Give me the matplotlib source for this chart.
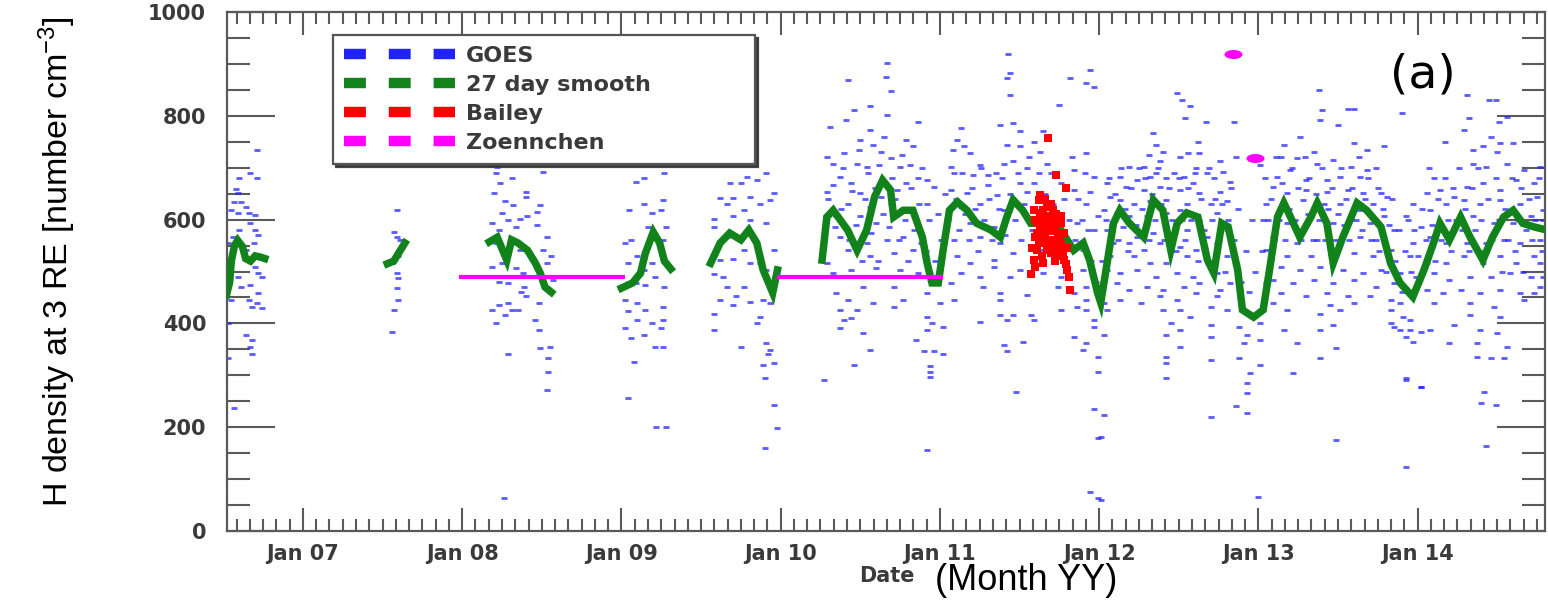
import numpy as np
import matplotlib
matplotlib.use("Agg")
import matplotlib.pyplot as plt
from matplotlib.lines import Line2D
from matplotlib.markers import MarkerStyle
from matplotlib.transforms import Affine2D
from matplotlib.ticker import FixedLocator

# ---------------------------------------------------------------------------
# Data (decimal year, H density in number cm^-3)
# ---------------------------------------------------------------------------
goes_2006 = [(2006.71, 734), (2006.67, 689), (2006.71, 680), (2006.60, 680), (2006.59, 651),
             (2006.57, 634), (2006.61, 634), (2006.55, 618), (2006.59, 612), (2006.66, 612),
             (2006.70, 609), (2006.60, 580), (2006.70, 580), (2006.72, 570), (2006.67, 593),
             (2006.53, 554), (2006.64, 541), (2006.72, 529), (2006.70, 509), (2006.72, 497),
             (2006.59, 490), (2006.74, 490), (2006.67, 474), (2006.72, 458), (2006.55, 445),
             (2006.68, 432), (2006.74, 429), (2006.53, 400), (2006.64, 378), (2006.68, 368),
             (2006.67, 355), (2006.68, 342), (2006.53, 333), (2006.57, 237), (2006.54, 516),
             (2006.66, 445), (2006.58, 658), (2006.64, 625), (2006.56, 567), (2006.69, 554),
             (2006.61, 471), (2006.71, 439)]

goes_2007 = [(2007.59, 712), (2007.59, 618), (2007.57, 577), (2007.59, 567), (2007.61, 561),
             (2007.60, 529), (2007.56, 516), (2007.59, 497), (2007.60, 487), (2007.59, 468),
             (2007.60, 445), (2007.57, 426), (2007.56, 384)]

goes_2008 = [(2008.22, 702), (2008.31, 680), (2008.51, 692), (2008.21, 689), (2008.20, 652),
             (2008.40, 654), (2008.24, 670), (2008.27, 635), (2008.32, 628), (2008.40, 644),
             (2008.49, 628), (2008.25, 612), (2008.19, 593), (2008.29, 599), (2008.36, 602),
             (2008.41, 606), (2008.47, 615), (2008.23, 580), (2008.34, 586), (2008.47, 590),
             (2008.53, 567), (2008.21, 554), (2008.36, 541), (2008.51, 541), (2008.56, 529),
             (2008.25, 516), (2008.19, 509), (2008.34, 506), (2008.53, 516), (2008.38, 497),
             (2008.23, 480), (2008.29, 477), (2008.49, 490), (2008.57, 484), (2008.39, 471),
             (2008.37, 461), (2008.40, 452), (2008.48, 439), (2008.23, 436), (2008.29, 439),
             (2008.31, 426), (2008.19, 426), (2008.35, 426), (2008.21, 400), (2008.27, 416),
             (2008.46, 407), (2008.48, 387), (2008.49, 352), (2008.55, 355), (2008.54, 333),
             (2008.29, 342), (2008.54, 307), (2008.53, 272), (2008.26, 63)]

goes_2009 = [(2009.14, 712), (2009.09, 673), (2009.14, 680), (2009.05, 619), (2009.14, 631),
             (2009.19, 612), (2009.17, 586), (2009.06, 561), (2009.02, 554), (2009.10, 529),
             (2009.04, 516), (2009.14, 503), (2009.19, 516), (2009.21, 490), (2009.09, 477),
             (2009.15, 474), (2009.02, 445), (2009.10, 439), (2009.15, 426), (2009.04, 423),
             (2009.10, 407), (2009.19, 400), (2009.02, 391), (2009.06, 371), (2009.14, 378),
             (2009.08, 326), (2009.21, 355), (2009.04, 256), (2009.22, 201),
             (2009.27, 689), (2009.26, 638), (2009.25, 619), (2009.28, 586), (2009.26, 561),
             (2009.25, 541), (2009.27, 471), (2009.26, 432), (2009.26, 407), (2009.25, 391),
             (2009.26, 355), (2009.28, 201),
             (2009.68, 670), (2009.75, 670), (2009.79, 683), (2009.91, 689), (2009.85, 676),
             (2009.62, 641), (2009.70, 641), (2009.81, 644), (2009.96, 651), (2009.58, 602),
             (2009.66, 631), (2009.77, 619), (2009.87, 631), (2009.93, 638), (2009.70, 606),
             (2009.81, 599), (2009.58, 586), (2009.91, 593), (2009.66, 567), (2009.77, 541),
             (2009.62, 522), (2009.70, 525), (2009.81, 516), (2009.87, 516), (2009.96, 541),
             (2009.58, 496), (2009.64, 490), (2009.91, 503), (2009.66, 471), (2009.77, 471),
             (2009.62, 445), (2009.70, 436), (2009.81, 442), (2009.89, 445), (2009.93, 439),
             (2009.58, 419), (2009.87, 413), (2009.85, 400), (2009.58, 387), (2009.75, 355),
             (2009.91, 362), (2009.93, 349), (2009.96, 323), (2009.89, 320), (2009.90, 294),
             (2009.96, 243), (2009.98, 198), (2009.90, 159), (2009.92, 342), (2009.72, 452)]

goes_2010 = [(2010.67, 901), (2010.66, 875), (2010.42, 869), (2010.69, 847), (2010.46, 811),
             (2010.56, 818), (2010.41, 792), (2010.67, 802), (2010.31, 779), (2010.86, 789),
             (2010.56, 773), (2010.50, 753), (2010.79, 753), (2010.83, 741), (2010.58, 744),
             (2010.29, 721), (2010.40, 728), (2010.63, 731), (2010.69, 718), (2010.33, 708),
             (2010.48, 708), (2010.54, 702), (2010.37, 683), (2010.81, 705), (2010.75, 702),
             (2010.33, 667), (2010.29, 654), (2010.44, 670), (2010.50, 651), (2010.63, 644),
             (2010.73, 657), (2010.79, 670), (2010.86, 680), (2010.92, 676), (2010.96, 663),
             (2010.42, 631), (2010.56, 625), (2010.69, 631), (2010.83, 619), (2010.92, 631),
             (2010.35, 606), (2010.50, 606), (2010.60, 593), (2010.71, 606), (2010.37, 567),
             (2010.54, 554), (2010.67, 561), (2010.77, 567), (2010.88, 554), (2010.29, 516),
             (2010.42, 541), (2010.56, 529), (2010.71, 535), (2010.83, 541), (2010.33, 497),
             (2010.44, 503), (2010.60, 506), (2010.50, 490), (2010.75, 503), (2010.86, 497),
             (2010.35, 458), (2010.42, 445), (2010.52, 471), (2010.71, 471), (2010.77, 445),
             (2010.92, 458), (2010.37, 426), (2010.48, 426), (2010.58, 439), (2010.71, 432),
             (2010.40, 407), (2010.44, 410), (2010.52, 381), (2010.37, 391), (2010.56, 349),
             (2010.46, 320), (2010.27, 291), (2010.85, 368), (2010.92, 413), (2010.95, 400),
             (2011.00, 439), (2011.02, 394), (2010.92, 387), (2010.96, 346), (2011.02, 342),
             (2010.90, 346), (2010.94, 317), (2010.94, 307), (2010.94, 297), (2010.92, 156),
             (2010.30, 640), (2010.34, 585), (2010.38, 620), (2010.39, 700), (2010.43, 560),
             (2010.45, 655), (2010.47, 590), (2010.49, 735), (2010.51, 520), (2010.53, 640),
             (2010.55, 690), (2010.57, 575), (2010.59, 660), (2010.61, 520), (2010.62, 705),
             (2010.64, 610), (2010.65, 760), (2010.68, 585), (2010.70, 680), (2010.72, 640),
             (2010.74, 560), (2010.76, 725), (2010.78, 600), (2010.80, 520), (2010.82, 660),
             (2010.84, 580), (2010.87, 630), (2010.89, 700), (2010.91, 540), (2010.93, 600),
             (2010.97, 520), (2010.99, 610)]

goes_2011 = [(2011.43, 920), (2011.44, 882), (2011.42, 872), (2011.44, 840), (2011.82, 872),
             (2011.92, 863), (2011.94, 888), (2011.97, 856), (2011.75, 821), (2011.13, 776),
             (2011.38, 782), (2011.46, 786), (2011.50, 770), (2011.65, 770), (2011.11, 753),
             (2011.15, 741), (2011.42, 744), (2011.50, 741), (2011.59, 750), (2011.19, 728),
             (2011.63, 731), (2011.92, 728), (2011.07, 702), (2011.25, 705), (2011.40, 708),
             (2011.46, 712), (2011.55, 699), (2011.67, 708), (2011.09, 689), (2011.21, 686),
             (2011.30, 686), (2011.50, 670), (2011.59, 670), (2011.76, 670), (2011.84, 696),
             (2011.97, 683), (2011.07, 657), (2011.17, 651), (2011.30, 667), (2011.36, 647),
             (2011.55, 654), (2011.84, 657), (2011.94, 654), (2011.13, 625), (2011.25, 631),
             (2011.40, 619), (2011.71, 631), (2011.92, 631), (2011.19, 593), (2011.34, 586),
             (2011.42, 606), (2011.86, 593), (2011.99, 606), (2011.09, 561), (2011.25, 567),
             (2011.38, 554), (2011.97, 580), (2011.11, 529), (2011.19, 516), (2011.34, 522),
             (2011.46, 535), (2011.63, 541), (2011.90, 541), (2011.13, 497), (2011.25, 490),
             (2011.34, 509), (2011.44, 490), (2011.50, 503), (2011.65, 497), (2011.76, 490),
             (2011.90, 503), (2011.07, 477), (2011.27, 471), (2011.38, 458), (2011.55, 455),
             (2011.74, 471), (2011.84, 458), (2011.92, 471), (2011.09, 445), (2011.38, 445),
             (2011.76, 426), (2011.86, 432), (2011.92, 445), (2011.38, 416), (2011.42, 407),
             (2011.46, 416), (2011.57, 416), (2011.59, 407), (2011.92, 426), (2011.97, 407),
             (2011.25, 403), (2011.97, 394), (2011.84, 374), (2011.92, 362), (2011.90, 349),
             (2011.40, 358), (2011.42, 346), (2011.52, 365), (2011.99, 336), (2011.99, 307),
             (2011.48, 268), (2011.97, 236), (2011.99, 179), (2011.94, 76), (2011.99, 63),
             (2011.01, 560), (2011.03, 650), (2011.05, 600), (2011.08, 735), (2011.10, 640),
             (2011.12, 580), (2011.14, 690), (2011.16, 610), (2011.18, 560), (2011.20, 660),
             (2011.22, 620), (2011.24, 540), (2011.26, 700), (2011.28, 600), (2011.31, 640),
             (2011.33, 560), (2011.35, 690), (2011.37, 620), (2011.39, 680), (2011.41, 570),
             (2011.44, 650), (2011.47, 600), (2011.49, 690), (2011.51, 560), (2011.53, 630),
             (2011.56, 720), (2011.58, 580), (2011.62, 690), (2011.66, 650), (2011.70, 690),
             (2011.78, 640), (2011.81, 600), (2011.83, 720), (2011.85, 560), (2011.87, 640),
             (2011.89, 600), (2011.91, 690), (2011.93, 580), (2011.95, 520), (2011.98, 480)]

goes_2012 = [(2012.49, 843), (2012.52, 830), (2012.57, 818), (2012.54, 795), (2012.67, 789),
             (2012.85, 789), (2012.62, 750), (2012.34, 766), (2012.36, 744), (2012.40, 731),
             (2012.31, 725), (2012.38, 712), (2012.51, 721), (2012.56, 728), (2012.63, 728),
             (2012.76, 712), (2012.86, 721), (2012.19, 702), (2012.28, 702), (2012.36, 689),
             (2012.47, 689), (2012.61, 699), (2012.68, 689), (2012.78, 692), (2012.13, 683),
             (2012.24, 676), (2012.32, 683), (2012.42, 680), (2012.53, 683), (2012.59, 670),
             (2012.72, 680), (2012.82, 673), (2012.05, 670), (2012.17, 663), (2012.28, 657),
             (2012.38, 663), (2012.51, 657), (2012.63, 651), (2012.76, 654), (2012.07, 644),
             (2012.13, 638), (2012.22, 631), (2012.32, 635), (2012.42, 638), (2012.55, 631),
             (2012.70, 631), (2012.80, 635), (2012.03, 619), (2012.11, 612), (2012.19, 606),
             (2012.30, 606), (2012.42, 612), (2012.51, 619), (2012.63, 599), (2012.74, 612),
             (2012.05, 580), (2012.15, 586), (2012.24, 567), (2012.34, 574), (2012.42, 586),
             (2012.55, 580), (2012.68, 567), (2012.80, 580), (2012.09, 554), (2012.19, 554),
             (2012.28, 541), (2012.38, 554), (2012.51, 548), (2012.61, 541), (2012.74, 554),
             (2012.84, 541), (2012.07, 529), (2012.22, 529), (2012.32, 516), (2012.42, 516),
             (2012.55, 529), (2012.70, 516), (2012.80, 529), (2012.05, 503), (2012.13, 497),
             (2012.24, 503), (2012.36, 490), (2012.49, 497), (2012.59, 490), (2012.74, 497),
             (2012.11, 477), (2012.19, 464), (2012.30, 471), (2012.40, 464), (2012.53, 471),
             (2012.63, 477), (2012.76, 464), (2012.82, 477), (2012.03, 439), (2012.13, 445),
             (2012.26, 439), (2012.38, 452), (2012.49, 445), (2012.61, 458), (2012.74, 452),
             (2012.05, 426), (2012.40, 426), (2012.51, 426), (2012.70, 432), (2012.80, 426),
             (2012.45, 400), (2012.51, 387), (2012.57, 413), (2012.70, 397), (2012.88, 394),
             (2012.93, 378), (2012.03, 378), (2012.42, 378), (2012.51, 355), (2012.70, 374),
             (2012.91, 362), (2013.01, 368), (2012.42, 336), (2012.42, 323), (2012.70, 329),
             (2012.88, 333), (2013.01, 320), (2012.42, 294), (2012.95, 304), (2012.93, 285),
             (2012.93, 265), (2012.70, 220), (2012.86, 240), (2012.93, 227), (2012.03, 224),
             (2013.00, 66), (2012.01, 60), (2012.01, 182),
             (2012.02, 520), (2012.04, 600), (2012.06, 680), (2012.08, 590), (2012.10, 650),
             (2012.12, 560), (2012.14, 700), (2012.16, 620), (2012.18, 540), (2012.20, 660),
             (2012.23, 590), (2012.25, 700), (2012.27, 620), (2012.29, 680), (2012.31, 560),
             (2012.33, 650), (2012.35, 600), (2012.37, 700), (2012.39, 630), (2012.41, 560),
             (2012.44, 660), (2012.46, 600), (2012.48, 540), (2012.50, 680), (2012.52, 600),
             (2012.54, 560), (2012.56, 660), (2012.58, 600), (2012.60, 690), (2012.62, 520),
             (2012.64, 640), (2012.66, 580), (2012.69, 700), (2012.71, 600), (2012.73, 640),
             (2012.75, 560), (2012.77, 630), (2012.79, 500), (2012.81, 600), (2012.83, 660),
             (2012.85, 560), (2012.87, 620), (2012.89, 480), (2012.92, 540), (2012.94, 460),
             (2012.96, 600), (2012.98, 500)]

goes_2013 = [(2013.38, 850), (2013.40, 811), (2013.56, 814), (2013.60, 814), (2013.50, 782),
             (2013.39, 792), (2013.16, 744), (2013.26, 760), (2013.35, 731), (2013.60, 747),
             (2013.68, 734), (2013.79, 741), (2013.01, 705), (2013.14, 721), (2013.24, 718),
             (2013.37, 708), (2013.47, 715), (2013.58, 702), (2013.68, 696), (2013.74, 699),
             (2013.12, 683), (2013.20, 696), (2013.30, 676), (2013.43, 676), (2013.51, 683),
             (2013.64, 683), (2013.09, 663), (2013.18, 651), (2013.30, 657), (2013.43, 654),
             (2013.56, 657), (2013.66, 651), (2013.77, 651), (2013.05, 631), (2013.14, 619),
             (2013.28, 638), (2013.41, 631), (2013.51, 631), (2013.64, 619), (2013.72, 631),
             (2013.81, 644), (2013.03, 599), (2013.18, 593), (2013.33, 606), (2013.47, 593),
             (2013.58, 599), (2013.70, 593), (2013.79, 606), (2013.09, 567), (2013.24, 554),
             (2013.37, 561), (2013.51, 561), (2013.64, 567), (2013.74, 561), (2013.85, 580),
             (2013.05, 541), (2013.18, 529), (2013.33, 529), (2013.47, 541), (2013.60, 535),
             (2013.72, 529), (2013.83, 541), (2013.14, 509), (2013.26, 503), (2013.39, 509),
             (2013.53, 503), (2013.66, 497), (2013.77, 503), (2013.89, 497), (2013.09, 484),
             (2013.22, 477), (2013.35, 484), (2013.47, 477), (2013.60, 484), (2013.74, 471),
             (2013.85, 477), (2013.14, 458), (2013.30, 452), (2013.43, 458), (2013.56, 452),
             (2013.70, 452), (2013.83, 445), (2013.89, 439), (2013.18, 426), (2013.39, 419),
             (2013.51, 426), (2013.83, 426), (2013.91, 413), (2013.83, 400), (2013.95, 407),
             (2013.39, 387), (2013.47, 397), (2013.95, 387), (2014.02, 384), (2014.08, 387),
             (2013.93, 374), (2013.97, 365), (2013.24, 362), (2013.49, 352), (2013.39, 333),
             (2013.22, 304), (2013.93, 294), (2014.02, 278), (2013.49, 175), (2013.93, 124),
             (2013.89, 387), (2013.45, 436), (2013.60, 439), (2013.85, 394), (2013.05, 477),
             (2013.09, 439), (2013.01, 400), (2013.16, 387),
             (2013.02, 540), (2013.04, 680), (2013.06, 600), (2013.08, 640), (2013.10, 560),
             (2013.11, 720), (2013.13, 600), (2013.15, 670), (2013.17, 560), (2013.19, 620),
             (2013.21, 700), (2013.23, 600), (2013.25, 660), (2013.27, 560), (2013.29, 720),
             (2013.31, 610), (2013.32, 680), (2013.34, 560), (2013.36, 650), (2013.38, 600),
             (2013.40, 700), (2013.42, 560), (2013.44, 620), (2013.46, 660), (2013.48, 560),
             (2013.50, 610), (2013.52, 700), (2013.54, 590), (2013.55, 640), (2013.57, 560),
             (2013.59, 660), (2013.61, 600), (2013.63, 720), (2013.65, 580), (2013.67, 640),
             (2013.69, 680), (2013.71, 560), (2013.73, 600), (2013.75, 660), (2013.76, 540),
             (2013.78, 620), (2013.80, 500), (2013.82, 590), (2013.84, 640), (2013.86, 520),
             (2013.88, 580), (2013.90, 460), (2013.92, 540), (2013.94, 600), (2013.96, 500),
             (2013.98, 580)]

goes_2014 = [(2014.31, 840), (2014.45, 830), (2014.49, 830), (2013.90, 805), (2014.32, 795),
             (2014.51, 789), (2014.56, 798), (2014.29, 773), (2014.46, 760), (2014.17, 750),
             (2014.41, 741), (2014.52, 747), (2014.60, 747), (2014.35, 734), (2014.50, 731),
             (2014.10, 680), (2014.35, 708), (2014.43, 702), (2014.56, 708), (2014.67, 696),
             (2014.77, 702), (2014.06, 651), (2014.14, 657), (2014.23, 644), (2014.31, 663),
             (2014.41, 670), (2014.52, 657), (2014.62, 676), (2014.73, 670), (2013.97, 631),
             (2014.08, 619), (2014.18, 631), (2014.29, 638), (2014.39, 631), (2014.52, 638),
             (2014.64, 631), (2014.75, 644), (2013.93, 606), (2014.02, 586), (2014.14, 593),
             (2014.25, 593), (2014.35, 606), (2014.48, 593), (2014.60, 593), (2014.71, 606),
             (2014.79, 619), (2013.97, 554), (2014.08, 567), (2014.18, 554), (2014.31, 554),
             (2014.43, 554), (2014.54, 561), (2014.64, 554), (2014.77, 561), (2013.95, 529),
             (2014.06, 516), (2014.18, 516), (2014.29, 529), (2014.41, 516), (2014.52, 529),
             (2014.62, 516), (2014.73, 529), (2013.99, 490), (2014.10, 497), (2014.20, 484),
             (2014.33, 490), (2014.46, 490), (2014.58, 497), (2014.71, 490), (2014.79, 490),
             (2014.06, 464), (2014.16, 458), (2014.27, 464), (2014.39, 458), (2014.52, 464),
             (2014.64, 458), (2014.77, 471), (2014.10, 439), (2014.33, 439), (2014.48, 432),
             (2014.67, 445), (2014.33, 416), (2014.52, 413), (2014.23, 397), (2014.39, 387),
             (2014.50, 381), (2014.37, 362), (2014.56, 355), (2014.20, 362), (2014.37, 336),
             (2014.46, 333), (2014.54, 333), (2014.02, 278), (2013.93, 291), (2014.42, 268),
             (2014.40, 246), (2014.49, 243), (2014.43, 163), (2014.73, 458), (2014.77, 516),
             (2014.00, 530), (2014.03, 620), (2014.05, 560), (2014.07, 700), (2014.09, 590),
             (2014.11, 520), (2014.13, 640), (2014.15, 560), (2014.17, 680), (2014.19, 600),
             (2014.21, 540), (2014.22, 660), (2014.24, 600), (2014.26, 700), (2014.28, 580),
             (2014.30, 620), (2014.32, 540), (2014.34, 660), (2014.36, 580), (2014.38, 700),
             (2014.40, 600), (2014.42, 540), (2014.44, 640), (2014.47, 560), (2014.49, 680),
             (2014.51, 600), (2014.53, 500), (2014.55, 620), (2014.57, 560), (2014.59, 680),
             (2014.61, 540), (2014.63, 600), (2014.65, 660), (2014.66, 500), (2014.68, 580),
             (2014.70, 640), (2014.72, 560), (2014.74, 600), (2014.76, 680), (2014.78, 540),
             (2014.79, 600)]

# 27 day running mean, one list per continuous stretch of data
smooth_2006 = [(2006.52, 455), (2006.54, 480), (2006.55, 520), (2006.57, 550), (2006.59, 560),
               (2006.62, 548), (2006.64, 525), (2006.67, 520), (2006.70, 530), (2006.73, 528),
               (2006.76, 525)]
smooth_2007 = [(2007.53, 515), (2007.57, 520), (2007.60, 535), (2007.63, 550), (2007.64, 555)]
smooth_2008 = [(2008.17, 557), (2008.22, 566), (2008.28, 522), (2008.31, 561), (2008.35, 555),
               (2008.41, 541), (2008.46, 516), (2008.49, 497), (2008.52, 470), (2008.56, 460)]
smooth_2009a = [(2009.00, 468), (2009.07, 478), (2009.12, 497), (2009.15, 535), (2009.20, 576),
                (2009.24, 555), (2009.27, 520), (2009.31, 505)]
smooth_2009b = [(2009.56, 516), (2009.62, 555), (2009.68, 574), (2009.75, 561), (2009.80, 580),
                (2009.85, 555), (2009.89, 503), (2009.95, 459), (2009.98, 503)]
smooth_2010_14 = [(2010.26, 522), (2010.29, 605), (2010.33, 618), (2010.42, 580), (2010.48, 541),
                  (2010.54, 580), (2010.59, 644), (2010.64, 676), (2010.69, 657), (2010.71, 605),
                  (2010.77, 618), (2010.83, 618), (2010.89, 566), (2010.92, 516), (2010.95, 478),
                  (2010.99, 478), (2011.02, 541), (2011.06, 618), (2011.11, 634), (2011.17, 618),
                  (2011.23, 593), (2011.32, 580), (2011.38, 566), (2011.42, 605), (2011.46, 638),
                  (2011.52, 618), (2011.57, 593), (2011.67, 593), (2011.76, 580), (2011.84, 541),
                  (2011.90, 555), (2011.94, 522), (2011.99, 459), (2012.01, 440), (2012.05, 516),
                  (2012.09, 593), (2012.13, 618), (2012.19, 593), (2012.28, 566), (2012.34, 638),
                  (2012.40, 618), (2012.45, 541), (2012.49, 593), (2012.55, 613), (2012.62, 605),
                  (2012.68, 522), (2012.72, 497), (2012.77, 593), (2012.81, 586), (2012.87, 503),
                  (2012.90, 426), (2012.97, 412), (2013.03, 426), (2013.07, 503), (2013.12, 605),
                  (2013.16, 632), (2013.22, 593), (2013.26, 566), (2013.33, 605), (2013.37, 632),
                  (2013.43, 593), (2013.47, 516), (2013.53, 566), (2013.62, 632), (2013.68, 618),
                  (2013.77, 586), (2013.83, 516), (2013.89, 478), (2013.97, 451), (2014.04, 503),
                  (2014.10, 555), (2014.14, 593), (2014.20, 561), (2014.27, 605), (2014.33, 566),
                  (2014.41, 522), (2014.47, 566), (2014.54, 605), (2014.60, 618), (2014.66, 593),
                  (2014.73, 586), (2014.81, 580)]

bailey = [(2011.68, 757), (2011.73, 686), (2011.79, 660), (2011.63, 647), (2011.65, 619),
          (2011.71, 619), (2011.61, 593), (2011.67, 586), (2011.76, 593), (2011.78, 574),
          (2011.63, 567), (2011.69, 561), (2011.76, 554), (2011.61, 541), (2011.67, 541),
          (2011.74, 535), (2011.78, 522), (2011.59, 522), (2011.57, 496), (2011.65, 516),
          (2011.80, 503), (2011.81, 490), (2011.82, 464), (2011.71, 580), (2011.63, 606),
          (2011.76, 606), (2011.69, 606), (2011.60, 567), (2011.67, 625), (2011.74, 574),
          (2011.65, 554), (2011.59, 619), (2011.70, 535), (2011.62, 638), (2011.60, 509),
          (2011.66, 596), (2011.72, 600), (2011.64, 575), (2011.68, 548), (2011.75, 565),
          (2011.62, 600), (2011.64, 612), (2011.66, 604), (2011.68, 590), (2011.70, 598),
          (2011.72, 585), (2011.73, 610), (2011.61, 575), (2011.63, 585), (2011.66, 570),
          (2011.69, 578), (2011.71, 560), (2011.73, 548), (2011.75, 540), (2011.77, 530),
          (2011.79, 515), (2011.64, 530), (2011.62, 555), (2011.58, 545), (2011.60, 600),
          (2011.70, 630), (2011.66, 640), (2011.72, 520), (2011.80, 545)]

zoennchen_years = [(2007.98, 2009.02), (2009.98, 2011.02)]
zoennchen_level = 490
zoennchen_points = [(2012.84, 920), (2012.98, 718)]

year_ticks = [2007, 2008, 2009, 2010, 2011, 2012, 2013, 2014]
year_labels = ["Jan 07", "Jan 08", "Jan 09", "Jan 10", "Jan 11", "Jan 12", "Jan 13", "Jan 14"]
density_ticks = [0, 200, 400, 600, 800, 1000]

# ---------------------------------------------------------------------------
# Styling
# ---------------------------------------------------------------------------
BLUE = "#2222ff"
GREEN = "#12821a"
RED = "#ff0000"
MAGENTA = "#ff00ff"
AXIS_GREY = "#5a5a5a"
LABEL_GREY = "#3a3a3a"

plt.rcParams["mathtext.fontset"] = "custom"
plt.rcParams["mathtext.rm"] = "Liberation Sans"
plt.rcParams["font.family"] = ["DejaVu Sans"]

W, H = 1548, 600
fig = plt.figure(figsize=(W / 100, H / 100), dpi=100)
ax = fig.add_axes([227 / W, 69 / H, 1318 / W, 519 / H])

# GOES scatter
for group in (goes_2006, goes_2007, goes_2008, goes_2009, goes_2010,
              goes_2011, goes_2012, goes_2013, goes_2014):
    gx, gy = zip(*group)
    ax.plot(gx, gy, ls="none", marker="_", ms=5.0, mew=2.0, color=BLUE, alpha=0.75, zorder=2)

# 27 day smooth
for seg in (smooth_2006, smooth_2007, smooth_2008, smooth_2009a, smooth_2009b, smooth_2010_14):
    sx, sy = zip(*seg)
    ax.plot(sx, sy, color=GREEN, lw=5.4, solid_joinstyle="miter", zorder=3)

# Zoennchen model level
for x0, x1 in zoennchen_years:
    ax.plot([x0, x1], [zoennchen_level, zoennchen_level], color=MAGENTA, lw=3.0,
            solid_capstyle="butt", zorder=4)

# Bailey
bx, by = zip(*bailey)
ax.plot(bx, by, ls="none", marker="s", ms=5.2, mew=0, color=RED, zorder=5)

# Zoennchen points
ellipse = MarkerStyle("o", transform=Affine2D().scale(2.0, 1.0))
zx, zy = zip(*zoennchen_points)
ax.plot(zx, zy, ls="none", marker=ellipse, ms=6.5, mew=0, color=MAGENTA, zorder=6)

# Axes, ticks
ax.set_xlim(2006.523, 2014.80)
ax.set_ylim(0, 1000)
ax.xaxis.set_major_locator(FixedLocator(year_ticks))
ax.xaxis.set_minor_locator(FixedLocator(np.arange(2006 + 7 / 12, 2014.81, 1 / 12)))
ax.set_xticklabels(year_labels)
ax.yaxis.set_major_locator(FixedLocator(density_ticks))
ax.yaxis.set_minor_locator(FixedLocator(np.arange(0, 1001, 50)))

ax.tick_params(which="both", direction="in", top=True, right=True,
               color=AXIS_GREY, width=1.5)
ax.tick_params(axis="x", which="major", length=16.5, pad=9)
ax.tick_params(axis="x", which="minor", length=8.6)
ax.tick_params(axis="y", which="major", length=34.5, pad=15)
ax.tick_params(axis="y", which="minor", length=16.5)
for lab in ax.get_xticklabels() + ax.get_yticklabels():
    lab.set_fontweight("bold")
    lab.set_fontsize(15)
    lab.set_color(LABEL_GREY)
for sp in ax.spines.values():
    sp.set_color(AXIS_GREY)
    sp.set_linewidth(1.6)

# Legend
handles = [
    Line2D([], [], color=BLUE, lw=7.5, dashes=(2.1, 2.2)),
    Line2D([], [], color=GREEN, lw=7.5, dashes=(2.1, 2.2)),
    Line2D([], [], color=RED, lw=7.5, dashes=(2.1, 2.2)),
    Line2D([], [], color=MAGENTA, lw=7.5, dashes=(2.1, 2.2)),
]
labels = ["GOES", "27 day smooth", "Bailey", "Zoennchen"]
leg = fig.legend(handles, labels, loc="upper left",
                 bbox_to_anchor=(333 / W, 1 - 160 / H, 422 / W, 125 / H),
                 bbox_transform=fig.transFigure, mode="expand", borderaxespad=0,
                 handlelength=5.0, handletextpad=0.5, borderpad=0.5,
                 labelspacing=0.4, fancybox=False, frameon=True,
                 shadow={"color": "#333333", "alpha": 0.9},
                 prop={"weight": "bold", "size": 16})
leg.get_frame().set_edgecolor("#555555")
leg.get_frame().set_linewidth(1.6)
for t in leg.get_texts():
    t.set_color(LABEL_GREY)
leg.set_zorder(10)

# Panel tag and axis titles
fig.text(1423 / W, 1 - 75 / H, "(a)", fontsize=34, ha="center", va="center", color="black")
fig.text(57 / W, 1 - 262 / H, r"H density at 3 RE [number $\mathregular{cm^{-3}}$]",
         rotation=90, ha="center", va="center", fontsize=24.5,
         family="Liberation Sans", color="black")
fig.text(887 / W, 1 - 576 / H, "Date", fontsize=15, fontweight="bold",
         ha="center", va="center", color=LABEL_GREY)
fig.text(1026 / W, 1 - 580 / H, "(Month YY)", fontsize=26,
         family="Liberation Sans", ha="center", va="center", color="black")

fig.savefig("out.png", dpi=100)
